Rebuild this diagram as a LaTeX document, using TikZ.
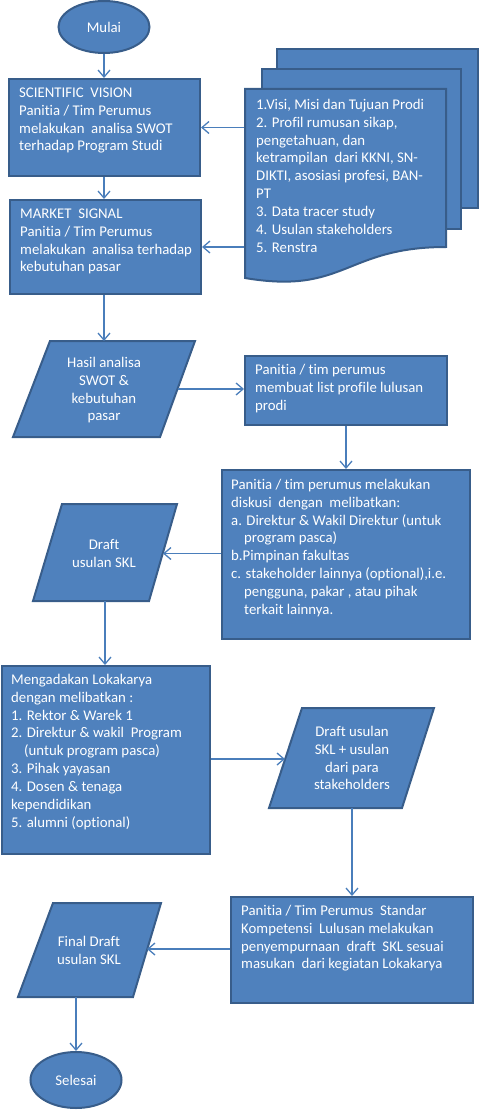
\documentclass[tikz,border=0pt]{standalone}
\usepackage{fontspec}
\setmainfont{Carlito}[Ligatures=NoCommon]
\usetikzlibrary{shapes.geometric,arrows.meta}
\definecolor{fillc}{HTML}{4F81BD}
\definecolor{edgec}{HTML}{385D8A}
\definecolor{linec}{HTML}{4A7EBB}
\newcommand\lbfont{\fontsize{14.8}{17.9}\selectfont}
\tikzset{
  shp/.style={fill=fillc, draw=edgec, line width=2pt},
  box/.style={shp, rectangle, anchor=north west, inner sep=0pt},
  oval/.style={shp, ellipse, inner sep=0pt, text=white, font=\lbfont},
  conn/.style={draw=linec, line width=1.3pt, -{Straight Barb[length=7pt,width=12pt]}},
  lbl/.style={text=white, font=\lbfont, inner sep=0pt, align=left, anchor=north west},
  clbl/.style={text=white, font=\lbfont, inner sep=0pt, align=center, anchor=north},
}
\begin{document}
\begin{tikzpicture}[x=1pt,y=-1pt]
\useasboundingbox (0,0) rectangle (479,1110);
% start
\node[oval, minimum width=91pt, minimum height=52pt] (m) at (104,27) {Mulai};
% boxes
\node[box, minimum width=191pt, minimum height=97pt] (b1) at (8,78) {};
\node[lbl] (t1) at (19,84.5) {\strut SCIENTIFIC\ \ VISION\\Panitia / Tim Perumus\\melakukan\ \ analisa SWOT\\terhadap Program Studi};
\node[box, minimum width=191pt, minimum height=94pt] (b2) at (9,199) {};
\node[lbl] (t2) at (20,205.5) {\strut MARKET\ \ SIGNAL\\Panitia / Tim Perumus\\melakukan\ \ analisa terhadap\\kebutuhan pasar};
% document stack
\draw[shp] (277,49) rectangle (478,208);
\draw[shp] (262,69) rectangle (461,229);
\draw[shp] (245,89) -- (446,89) -- (446,247) .. controls (345,247) and (345,295) .. (245,278) -- cycle;
\coordinate (dl) at (244,100);
\node[lbl] (doc) at (256,96.5) {\strut 1.Visi, Misi dan Tujuan Prodi\\2. Profil rumusan sikap,\\pengetahuan, dan\\ketrampilan\ \ dari KKNI, SN-\\DIKTI, asosiasi profesi, BAN-\\PT\\3. Data tracer study\\4. Usulan stakeholders\\5. Renstra};
% parallelogram 1
\draw[shp] (50,341) -- (195,341) -- (160,437) -- (13,437) -- cycle;
\coordinate (p1t) at (104,341);
\coordinate (p1r) at (178,389);
\node[clbl] (p1) at (104,354.5) {\strut Hasil analisa\\SWOT \&\\kebutuhan\\pasar};
% box 3
\node[box, minimum width=202pt, minimum height=69pt] (b3) at (244,355) {};
\node[lbl] (t3) at (255,361.5) {\strut Panitia / tim perumus\\membuat list profile lulusan\\prodi};
% box 4
\node[box, minimum width=248pt, minimum height=169pt] (b4) at (221,469) {};
\node[lbl] (t4) at (231,476.5) {\strut Panitia / tim perumus melakukan\\diskusi\ \ dengan\ \ melibatkan:\\a. Direktur \& Wakil Direktur (untuk\\\hspace*{13pt}program pasca)\\b.Pimpinan fakultas\\c. stakeholder lainnya (optional),i.e.\\\hspace*{13pt}pengguna, pakar , atau pihak\\\hspace*{13pt}terkait lainnya.};
% parallelogram 2
\draw[shp] (62,504) -- (177,504) -- (149,601) -- (33,601) -- cycle;
\coordinate (p2r) at (163,553.5);
\coordinate (p2b) at (105,601);
\node[clbl] (p2) at (104,536.5) {\strut Draft\\usulan SKL};
% box 5
\node[box, minimum width=208pt, minimum height=188pt] (b5) at (1,665) {};
\node[lbl] (t5) at (11,671.5) {\strut Mengadakan Lokakarya\\dengan melibatkan :\\1. Rektor \& Warek 1\\2. Direktur \& wakil\ \ Program\\\hspace*{13pt}(untuk program pasca)\\3. Pihak yayasan\\4. Dosen \& tenaga\\kependidikan\\5. alumni (optional)};
% parallelogram 3
\draw[shp] (302,708) -- (434,708) -- (402,808) -- (269,808) -- cycle;
\coordinate (p3l) at (285,759);
\coordinate (p3b) at (352,808);
\node[clbl] (p3) at (352,723.5) {\strut Draft usulan\\SKL + usulan\\dari para\\stakeholders};
% box 6
\node[box, minimum width=242pt, minimum height=106pt] (b6) at (230,896) {};
\node[lbl] (t6) at (241,902.5) {\strut Panitia / Tim Perumus\ \ Standar\\Kompetensi\ \ Lulusan melakukan\\penyempurnaan\ \ draft\ \ SKL sesuai\\masukan\ \ dari kegiatan Lokakarya};
% parallelogram 4
\draw[shp] (53,903) -- (161,903) -- (133,997) -- (18,997) -- cycle;
\coordinate (p4r) at (147,949);
\coordinate (p4b) at (76,997);
\node[clbl] (p4) at (89,933.5) {\strut Final Draft\\usulan SKL};
% end
\node[oval, minimum width=91pt, minimum height=56pt] (s) at (76,1080) {Selesai};
% connectors
\draw[conn] (m.south) -- (m.south |- b1.north);
\draw[conn] (b1.south -| m.south) -- (m.south |- b2.north);
\draw[conn] (dl |- b1.east) -- (b1.east);
\draw[conn] (dl |- b2.east) -- (b2.east);
\draw[conn] (b2.south -| p1t) -- (p1t);
\draw[conn] (p1r) -- (p1r -| b3.west);
\draw[conn] (b3.south) -- (b3.south |- b4.north);
\draw[conn] (b4.west |- p2r) -- (p2r);
\draw[conn] (p2b) -- (p2b |- b5.north);
\draw[conn] (b5.east |- p3l) -- (p3l);
\draw[conn] (p3b) -- (p3b |- b6.north);
\draw[conn] (b6.west |- p4r) -- (p4r);
\draw[conn] (p4b) -- (p4b |- s.north);
\end{tikzpicture}
\end{document}
